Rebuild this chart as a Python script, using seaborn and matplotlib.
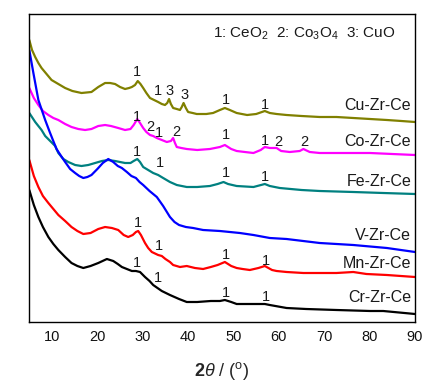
import matplotlib
matplotlib.use("Agg")
import matplotlib.pyplot as plt
import seaborn as sns
import pandas as pd

# ---- data: (2theta in degrees, intensity in arbitrary units) ----
cu = [(5.0, 282), (5.6, 272), (6.3, 265), (7.0, 259), (7.7, 254), (8.8, 248), (9.9, 242), (11.4, 238),
      (12.9, 234), (14.5, 231), (16.5, 229), (18.7, 230), (20.2, 235), (21.7, 239), (22.8, 239), (23.9, 238),
      (25.0, 235), (26.1, 233), (27.0, 234), (27.6, 235), (28.3, 237), (28.9, 241), (29.5, 238), (30.1, 234),
      (30.8, 229), (31.6, 224), (32.5, 222), (33.4, 220), (34.2, 218), (34.9, 217), (35.4, 219), (35.8, 223),
      (36.2, 218), (36.7, 214), (37.5, 213), (38.2, 212), (38.6, 215), (39.0, 219), (39.5, 214), (40.0, 210),
      (41.0, 209), (41.9, 208), (44.0, 208), (45.5, 209), (47.0, 212), (48.1, 214), (49.2, 212), (50.7, 209),
      (53.0, 207), (55.0, 208), (56.9, 211), (58.0, 209), (59.5, 208), (61.7, 207), (65.0, 206), (69.0, 205),
      (72.7, 205), (76.4, 204), (80.1, 203), (83.8, 202), (87.0, 201), (90.0, 200)]

co = [(5.0, 234), (6.0, 224), (7.0, 217), (8.0, 211), (9.2, 207), (10.3, 204), (11.4, 202), (12.9, 198),
      (14.3, 195), (15.8, 193), (17.3, 192), (18.7, 193), (20.2, 196), (21.7, 197), (23.0, 196), (24.6, 194),
      (26.1, 192), (27.3, 193), (28.0, 197), (28.8, 203), (29.4, 199), (30.1, 194), (30.8, 190), (31.6, 187),
      (32.3, 186), (33.1, 184), (34.2, 182), (35.3, 180), (36.2, 181), (36.7, 184), (37.1, 179), (37.5, 175),
      (38.5, 174), (39.7, 173), (42.0, 172), (44.8, 173), (47.0, 175), (48.1, 177), (49.5, 173), (50.7, 171),
      (52.5, 170), (54.4, 169), (56.0, 172), (56.9, 175), (58.0, 174), (59.5, 174), (60.5, 171), (62.4, 170),
      (64.6, 171), (65.4, 173), (66.8, 170), (69.0, 169), (72.7, 169), (76.4, 169), (80.1, 169), (85.0, 168),
      (90.0, 167)]

fe = [(5.0, 209), (6.3, 200), (7.7, 192), (8.5, 186), (9.6, 181), (10.7, 176), (11.4, 169), (12.5, 163),
      (13.6, 160), (15.1, 157), (16.5, 156), (18.0, 157), (19.5, 159), (21.0, 161), (22.4, 162), (23.9, 161),
      (26.1, 159), (27.3, 159), (28.0, 161), (28.8, 163), (29.4, 160), (30.1, 155), (31.2, 152), (32.3, 149),
      (33.4, 147), (34.5, 144), (36.0, 140), (37.5, 137), (39.7, 135), (42.0, 135), (44.8, 136), (46.5, 138),
      (47.8, 140), (48.8, 138), (50.7, 136), (54.4, 135), (56.9, 138), (58.0, 136), (60.2, 134), (65.0, 132),
      (69.0, 131), (76.4, 130), (83.0, 129), (90.0, 128)]

v = [(5.0, 272), (5.9, 249), (7.0, 222), (8.5, 202), (9.5, 190), (10.2, 182), (11.0, 173), (12.0, 166),
     (12.9, 160), (14.0, 153), (15.1, 149), (16.0, 146), (16.9, 144), (17.8, 145), (18.7, 147), (20.0, 153),
     (21.2, 159), (22.4, 163), (23.5, 160), (24.5, 156), (25.4, 154), (26.5, 150), (27.5, 146), (28.5, 144),
     (29.3, 140), (30.1, 137), (31.5, 131), (33.1, 125), (34.5, 116), (36.0, 105), (37.0, 100), (38.0, 97),
     (39.5, 95), (41.1, 94), (43.3, 92), (47.0, 91), (51.4, 89), (54.4, 87), (58.0, 84), (61.7, 83),
     (69.0, 79), (76.4, 77), (83.8, 74), (90.0, 70)]

mn = [(5.0, 162), (6.0, 146), (7.0, 135), (8.0, 126), (9.2, 119), (10.3, 113), (11.4, 107), (12.9, 101),
      (14.3, 95), (15.6, 91), (16.9, 88), (18.5, 89), (20.2, 93), (21.7, 95), (23.2, 94), (24.6, 92),
      (25.8, 87), (26.8, 85), (27.8, 87), (28.5, 90), (29.0, 91), (29.6, 87), (30.5, 79), (31.2, 74),
      (32.0, 70), (33.4, 67), (34.2, 66), (35.0, 63), (36.0, 60), (36.7, 57), (38.2, 55), (39.7, 56),
      (41.5, 54), (43.3, 53), (45.0, 55), (46.5, 57), (48.1, 60), (49.5, 56), (50.7, 54), (52.0, 53),
      (53.6, 52), (55.5, 54), (56.9, 56), (58.5, 52), (59.5, 51), (61.7, 50), (65.4, 49), (69.0, 49),
      (72.7, 49), (76.4, 50), (79.3, 48), (83.8, 47), (90.0, 45)]

cr = [(5.0, 132), (6.0, 117), (7.0, 105), (8.0, 95), (9.2, 85), (10.3, 78), (11.4, 72), (12.9, 65),
      (14.3, 59), (15.6, 56), (16.9, 54), (18.5, 56), (20.2, 59), (22.1, 63), (23.5, 61), (24.5, 58),
      (25.4, 55), (26.5, 53), (27.6, 51), (28.5, 51), (29.4, 50), (30.5, 45), (31.5, 41), (32.3, 37),
      (34.2, 31), (36.0, 27), (38.0, 23), (39.7, 20), (42.0, 20), (45.0, 21), (47.0, 21), (48.1, 22),
      (49.5, 20), (50.7, 18), (54.4, 18), (56.9, 18), (58.0, 17), (61.7, 14), (66.0, 13), (72.7, 12),
      (80.1, 11), (83.0, 11), (90.0, 8)]

samples = ["Cu-Zr-Ce", "Co-Zr-Ce", "Fe-Zr-Ce", "V-Zr-Ce", "Mn-Zr-Ce", "Cr-Zr-Ce"]
colors = ["#808000", "#FF00FF", "#008080", "#0000FF", "#FF0000", "#000000"]
label_y = [216, 180, 140, 86, 59, 24]

# phase marker annotations: (2theta, intensity, text)
ann_cu = [(28.7, 250, "1"), (33.4, 231, "1"), (35.8, 231, "3"), (39.3, 227, "3"), (48.3, 222, "1"), (56.9, 217, "1")]
ann_co = [(28.8, 205, "1"), (31.6, 195, "2"), (33.6, 189, "1"), (37.3, 190, "2"), (48.3, 187, "1"),
          (56.9, 181, "1"), (59.9, 180, "2"), (65.6, 180, "2")]
ann_fe = [(28.8, 170, "1"), (33.8, 159, "1"), (48.3, 149, "1"), (56.9, 145, "1")]
ann_mn = [(29.0, 99, "1"), (33.6, 76, "1"), (48.3, 67, "1"), (57.1, 61, "1")]
ann_cr = [(28.7, 59, "1"), (33.4, 44, "1"), (48.3, 29, "1"), (57.1, 25, "1")]

xticks = [10, 20, 30, 40, 50, 60, 70, 80, 90]

# ---- build table ----
series = [cu, co, fe, v, mn, cr]
frames = []
for name, pts in zip(samples, series):
    frames.append(pd.DataFrame({"two_theta": [p[0] for p in pts],
                                "intensity": [p[1] for p in pts],
                                "sample": name}))
df = pd.concat(frames, ignore_index=True)

sns.set_style("white")
plt.rcParams["font.family"] = ["Liberation Sans", "DejaVu Sans"]
plt.rcParams["mathtext.fontset"] = "custom"
plt.rcParams["mathtext.rm"] = "Liberation Sans"
plt.rcParams["mathtext.it"] = "Liberation Sans:italic"
plt.rcParams["mathtext.bf"] = "Liberation Sans:bold"

fig = plt.figure(figsize=(4.42, 3.85), dpi=100)
ax = fig.add_axes([29.3 / 442, 1 - 322 / 385, (415 - 29.3) / 442, (322 - 14) / 385])

sns.lineplot(data=df, x="two_theta", y="intensity", hue="sample", palette=dict(zip(samples, colors)),
             hue_order=samples, sort=False, estimator=None, legend=False, linewidth=1.6, ax=ax)

ax.set_xlim(5, 90)
ax.set_ylim(0, 308)
ax.set_xticks(xticks)
ax.set_xticklabels([str(t) for t in xticks])
ax.set_yticks([])
ax.tick_params(axis="x", direction="in", length=4.5, width=0.8, labelsize=10.5, pad=6, colors="#111111")
for s in ax.spines.values():
    s.set_linewidth(1.0)
    s.set_color("black")

ax.set_xlabel(r"$\mathbf{2}\mathit{\theta}$ / ($^{\rm o}$)", fontsize=13, labelpad=11)
ax.set_ylabel("")

txt = "#1a1a1a"
for name, ly in zip(samples, label_y):
    ax.text(89.2, ly, name, ha="right", va="center", fontsize=11.5, color=txt)

for group in [ann_cu, ann_co, ann_fe, ann_mn, ann_cr]:
    for x, y, t in group:
        ax.text(x, y, t, ha="center", va="center", fontsize=10.5, color=txt)

ax.text(45.4, 288, r"1: CeO$_2$  2: Co$_3$O$_4$  3: CuO", ha="left", va="center", fontsize=11, color=txt)

fig.savefig("out.png", dpi=100)
